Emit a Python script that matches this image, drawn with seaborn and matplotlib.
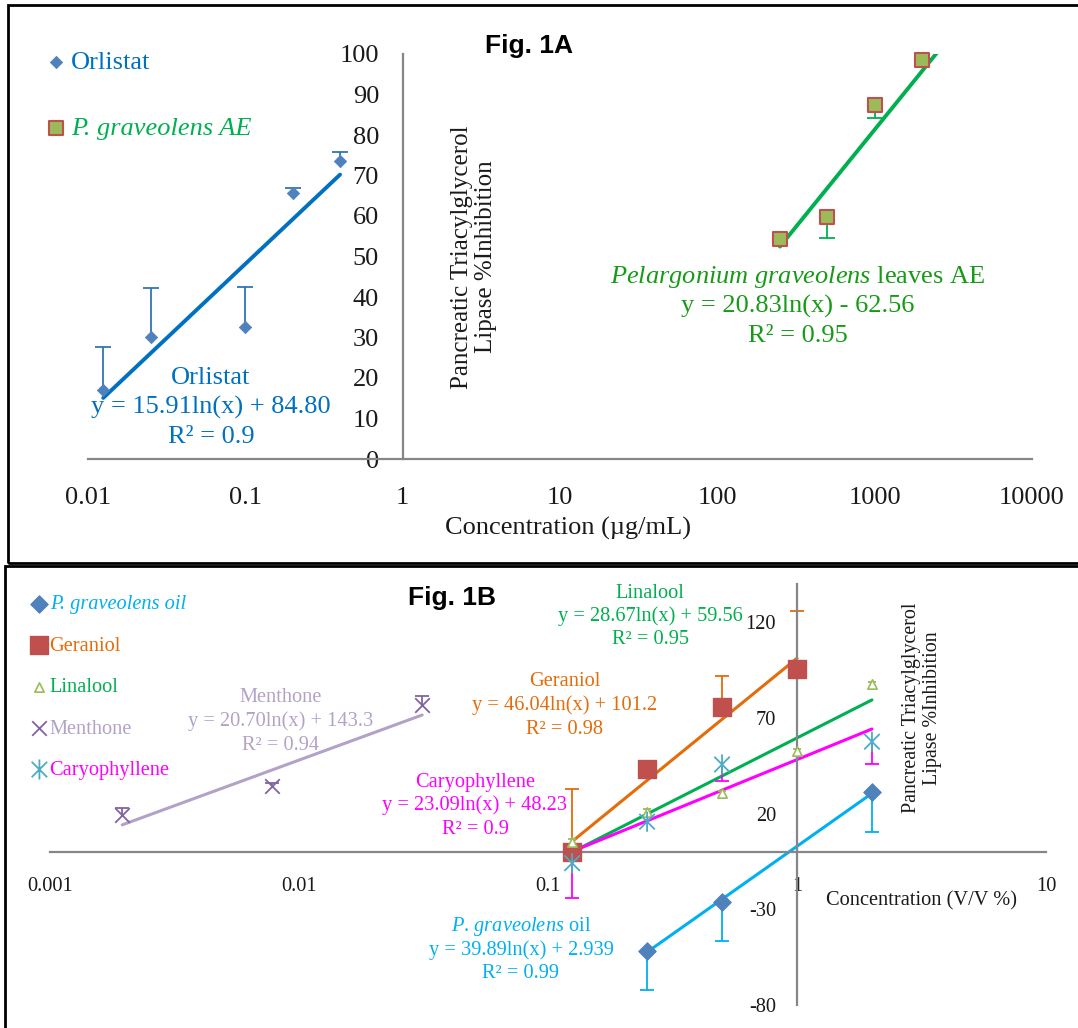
import numpy as np
import matplotlib
matplotlib.use("Agg")
import matplotlib.pyplot as plt
import seaborn as sns
from matplotlib.patches import Rectangle
from matplotlib.path import Path
from matplotlib.ticker import NullLocator

# ---- Fig. 1A (ug/mL) ----
orlistat_conc = [0.0125, 0.025, 0.1, 0.2, 0.4]
orlistat_inh = [17.1, 30.2, 32.7, 65.7, 73.5]
orlistat_err = [10.6, 11.9, 9.8, 1.2, 2.3]        # plus only
orlistat_fit = (15.91, 84.80)

pg_ae_conc = [250, 500, 1000, 2000]
pg_ae_inh = [54.4, 59.7, 87.5, 98.5]
pg_ae_err = [0.0, 5.1, 3.3, 0.0]                  # minus only
pg_ae_fit = (20.83, -62.56)
pg_ae_fit_range = (250, 2600)

# ---- Fig. 1B (V/V %) ----
oil_conc = [0.25, 0.5, 2]
oil_inh = [-51.7, -26.4, 31.5]
oil_err = [20.3, 20.4, 20.9]                      # minus
oil_fit = (39.89, 2.939)

geraniol_conc = [0.125, 0.25, 0.5, 1]
geraniol_inh = [0.0, 43.1, 75.7, 95.8]
geraniol_err = [32.9, 4.6, 16.3, 29.9]            # plus
geraniol_fit = (46.04, 101.2)

linalool_conc = [0.125, 0.25, 0.5, 1, 2]
linalool_inh = [5.0, 20.7, 31.0, 52.9, 87.5]
linalool_err = [1.5, 1.5, 1.0, 1.0, 1.5]          # plus
linalool_fit = (28.67, 59.56)

menthone_conc = [0.00195, 0.0078, 0.03125]
menthone_inh = [19.3, 34.4, 76.7]
menthone_err = [3.5, 1.5, 4.9]                    # plus
menthone_fit = (20.70, 143.3)

caryo_conc = [0.125, 0.25, 0.5, 2]
caryo_inh = [-5.9, 15.8, 45.7, 57.6]
caryo_err = [18.3, 0.0, 8.7, 11.9]                # minus
caryo_fit = (23.09, 48.23)

xticks_a = [0.01, 0.1, 1, 10, 100, 1000, 10000]
xlabels_a = ["0.01", "0.1", "1", "10", "100", "1000", "10000"]
yticks_a = list(range(0, 101, 10))
xticks_b = [0.001, 0.01, 0.1, 1, 10]
xlabels_b = ["0.001", "0.01", "0.1", "1", "10"]
yticks_b = [-80, -30, 20, 70, 120]

W, H = 1078, 1028
gray = "#868686"
almost_black = "#1a1a1a"

# Excel-like asterisk: an X plus a vertical bar
asterisk = Path([(-1, -1), (1, 1), (-1, 1), (1, -1), (0, -1.3), (0, 1.3)],
                [Path.MOVETO, Path.LINETO] * 3)


def px(x, y):
    return x / W, 1 - y / H


def trend(ax, fit, lo, hi, color, lw):
    xs = np.geomspace(lo, hi, 80)
    ys = fit[0] * np.log(xs) + fit[1]
    sns.lineplot(x=xs, y=ys, ax=ax, color=color, lw=lw, zorder=2)


def one_sided_err(ax, x, y, err, sign, color, cap=10, lw=1.3):
    x = np.asarray(x, float)
    y = np.asarray(y, float)
    e = np.asarray(err, float)
    keep = e > 0
    end = y + sign * e
    ax.vlines(x[keep], y[keep], end[keep], color=color, lw=lw, zorder=2)
    ax.plot(x[keep], end[keep], ls="none", marker="_", ms=cap, mew=lw,
            color=color, zorder=2)


def style_axis(ax, xticks, xlabels, yticks, ylim, size, xpad, ypad):
    ax.set_xscale("log")
    ax.set_xlim(xticks[0], xticks[-1])
    ax.set_ylim(*ylim)
    for s in ["top", "right"]:
        ax.spines[s].set_visible(False)
    ax.spines["left"].set_position(("data", 1))
    ax.spines["bottom"].set_position(("data", 0))
    for s in ["left", "bottom"]:
        ax.spines[s].set_color(gray)
        ax.spines[s].set_linewidth(1.6)
    ax.set_xticks(xticks)
    ax.set_xticklabels(xlabels)
    ax.xaxis.set_minor_locator(NullLocator())
    ax.set_yticks(yticks)
    ax.tick_params(axis="x", direction="out", length=6, width=1.3,
                   color=gray, pad=xpad, labelsize=size,
                   labelcolor=almost_black)
    ax.tick_params(axis="y", direction="out", length=6, width=1.3,
                   color=gray, pad=ypad, labelsize=size,
                   labelcolor=almost_black)
    ax.set_xlabel("")
    ax.set_ylabel("")
    ax.patch.set_alpha(0)


def block(fig, cx, y0, step, lines, color, size):
    for i, s in enumerate(lines):
        x, y = px(cx, y0 + i * step)
        fig.text(x, y, s, color=color, fontsize=size, ha="center",
                 va="center")


sns.set_style("white")
plt.rcParams["font.family"] = ["Liberation Serif", "DejaVu Serif"]
plt.rcParams["axes.unicode_minus"] = False
plt.rcParams["mathtext.fontset"] = "custom"
plt.rcParams["mathtext.rm"] = "Liberation Serif"
plt.rcParams["mathtext.it"] = "Liberation Serif:italic"

fig = plt.figure(figsize=(W / 100, H / 100), dpi=100)

# ---------------- Panel A ----------------
ax = fig.add_axes([88 / W, 1 - 459 / H, (1032 - 88) / W, (459 - 54) / H])
style_axis(ax, xticks_a, xlabels_a, yticks_a, (0, 100), 19, 14, 11)

trend(ax, orlistat_fit, min(orlistat_conc), max(orlistat_conc), "#0070C0", 2.8)
trend(ax, pg_ae_fit, pg_ae_fit_range[0], pg_ae_fit_range[1], "#00B050", 2.8)
one_sided_err(ax, orlistat_conc, orlistat_inh, orlistat_err, 1, "#2E75B6", cap=11)
one_sided_err(ax, pg_ae_conc, pg_ae_inh, pg_ae_err, -1, "#00B050", cap=11)
sns.scatterplot(x=orlistat_conc, y=orlistat_inh, ax=ax, marker="D", s=40,
                color="#4F81BD", edgecolor="#4F81BD", zorder=3,
                label="Orlistat")
sns.scatterplot(x=pg_ae_conc, y=pg_ae_inh, ax=ax, marker="s", s=90,
                color="#9BBB59", edgecolor="#C0504D", linewidth=1.5,
                zorder=3, clip_on=False, label="P. graveolens AE")
leg = ax.legend(loc="upper left", bbox_to_anchor=px(30, 37),
                bbox_transform=fig.transFigure, frameon=False,
                fontsize=19, labelspacing=1.64, handletextpad=0.05,
                handlelength=1.0, borderpad=0)
for t, c in zip(leg.get_texts(), ["#0070C0", "#00B050"]):
    t.set_color(c)
leg.get_texts()[1].set_style("italic")

block(fig, 211, 378, 29.5, ["Orlistat", "y = 15.91ln(x) + 84.80",
                            "R\u00b2 = 0.9"], "#0070C0", 19)
block(fig, 798, 277, 29.5,
      [r"$\mathit{Pelargonium}$ $\mathit{graveolens}$ leaves AE",
       "y = 20.83ln(x) - 62.56", "R\u00b2 = 0.95"], "#179A17", 19)

fig.text(*px(474, 257), "Pancreatic Triacylglycerol\nLipase %Inhibition",
         rotation=90, ha="center", va="center", fontsize=18,
         linespacing=1.1, color=almost_black)
fig.text(*px(568, 528), "Concentration (\u00b5g/mL)", ha="center",
         va="center", fontsize=19, color=almost_black)
fig.text(*px(529, 46), "Fig. 1A", ha="center", va="center", fontsize=19,
         fontweight="bold", family="Liberation Sans", color="black")

# ---------------- Panel B ----------------
bx = fig.add_axes([50 / W, 1 - 1005 / H, (1046 - 50) / W, (1005 - 584) / H])
style_axis(bx, xticks_b, xlabels_b, yticks_b, (-80, 140), 14.7, 12, 9)

trend(bx, oil_fit, min(oil_conc), max(oil_conc), "#00B0F0", 2.2)
trend(bx, geraniol_fit, min(geraniol_conc), max(geraniol_conc), "#E46C0A", 2.2)
trend(bx, linalool_fit, min(linalool_conc), max(linalool_conc), "#00B050", 2.2)
trend(bx, menthone_fit, min(menthone_conc), max(menthone_conc), "#B3A2C7", 2.2)
trend(bx, caryo_fit, min(caryo_conc), max(caryo_conc), "#FF00FF", 2.2)

one_sided_err(bx, oil_conc, oil_inh, oil_err, -1, "#00B0F0")
one_sided_err(bx, geraniol_conc, geraniol_inh, geraniol_err, 1, "#E46C0A")
one_sided_err(bx, linalool_conc, linalool_inh, linalool_err, 1, "#9BBB59", cap=6)
one_sided_err(bx, menthone_conc, menthone_inh, menthone_err, 1, "#8064A2")
one_sided_err(bx, caryo_conc, caryo_inh, caryo_err, -1, "#FF00FF")

sns.scatterplot(x=oil_conc, y=oil_inh, ax=bx, marker="D", s=80,
                color="#4F81BD", edgecolor="#4F81BD", zorder=3,
                label="P. graveolens oil")
sns.scatterplot(x=geraniol_conc, y=geraniol_inh, ax=bx, marker="s", s=150,
                color="#C0504D", edgecolor="#C0504D", zorder=3,
                label="Geraniol")
sns.scatterplot(x=linalool_conc, y=linalool_inh, ax=bx, marker="^", s=45,
                facecolor="white", edgecolor="#9BBB59", linewidth=1.2,
                zorder=3, label="Linalool")
sns.scatterplot(x=menthone_conc, y=menthone_inh, ax=bx, marker="x", s=110,
                color="#8064A2", linewidth=1.3, zorder=3, label="Menthone")
sns.scatterplot(x=caryo_conc, y=caryo_inh, ax=bx, marker=asterisk, s=210,
                facecolor="none", edgecolor="#4BACC6", linewidth=1.3,
                zorder=3, label="Caryophyllene")
leg = bx.legend(loc="upper left", bbox_to_anchor=px(19, 585),
                bbox_transform=fig.transFigure, frameon=False,
                fontsize=14.7, labelspacing=1.08, handletextpad=0.0,
                handlelength=1.0, borderpad=0)
for t, c in zip(leg.get_texts(),
                ["#00B0F0", "#E46C0A", "#00B050", "#B3A2C7", "#FF00FF"]):
    t.set_color(c)
leg.get_texts()[0].set_style("italic")

block(fig, 650, 593, 23.5, ["Linalool", "y = 28.67ln(x) + 59.56",
                            "R\u00b2 = 0.95"], "#00B050", 14.7)
block(fig, 565, 682, 23.5, ["Geraniol", "y = 46.04ln(x) + 101.2",
                            "R\u00b2 = 0.98"], "#E46C0A", 14.7)
block(fig, 475, 782, 23.5, ["Caryophyllene", "y = 23.09ln(x) + 48.23",
                            "R\u00b2 = 0.9"], "#FF00FF", 14.7)
block(fig, 281, 698, 23.5, ["Menthone", "y = 20.70ln(x) + 143.3",
                            "R\u00b2 = 0.94"], "#B3A2C7", 14.7)
block(fig, 521, 927, 23.5, [r"$\mathit{P}$. $\mathit{graveolens}$ oil",
                            "y = 39.89ln(x) + 2.939", "R\u00b2 = 0.99"],
      "#00B0F0", 14.7)

fig.text(*px(922, 708), "Pancreatic Triacylglycerol\nLipase %Inhibition",
         rotation=90, ha="center", va="center", fontsize=14.4,
         linespacing=1.1, color=almost_black)
fig.text(*px(922, 901), "Concentration (V/V %)", ha="center",
         va="center", fontsize=14.7, color=almost_black)
fig.text(*px(452, 598), "Fig. 1B", ha="center", va="center", fontsize=19,
         fontweight="bold", family="Liberation Sans", color="black")

# panel frames
fig.patches.append(Rectangle(px(8, 563), (1090 - 8) / W, (563 - 5) / H,
                             transform=fig.transFigure, fill=False,
                             lw=2, ec="black"))
fig.patches.append(Rectangle(px(5, 1040), (1090 - 5) / W, (1040 - 566) / H,
                             transform=fig.transFigure, fill=False,
                             lw=2, ec="black"))

fig.savefig("out.png", dpi=100, facecolor="white")
